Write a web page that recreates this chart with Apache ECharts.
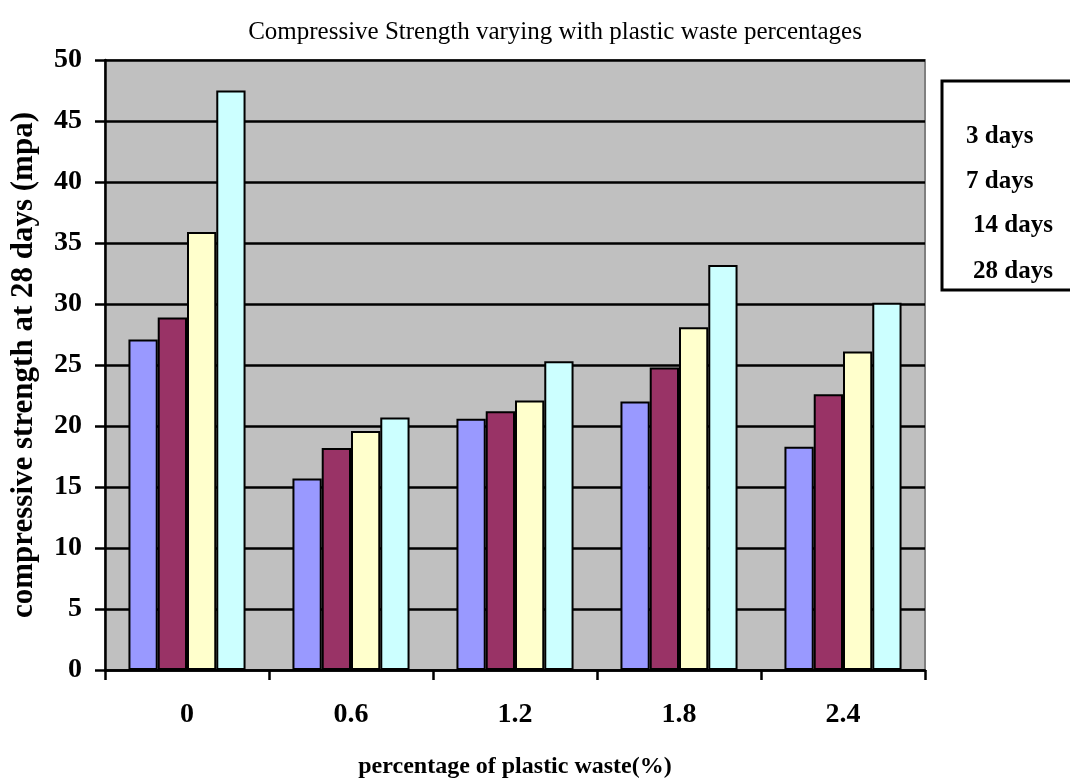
<!DOCTYPE html>
<html>
<head>
<meta charset="utf-8">
<script src="https://cdn.jsdelivr.net/npm/echarts@6/dist/echarts.min.js"></script>
<style>
  html, body { margin: 0; padding: 0; background: #ffffff; }
  #chart { width: 1070px; height: 784px; }
</style>
</head>
<body>
<div id="chart"></div>
<script>
// Plastic waste content (%) on the x axis
const categories = ['0', '0.6', '1.2', '1.8', '2.4'];
// Compressive strength (MPa) by curing age
const days3  = [27.1, 15.7, 20.6, 22.0, 18.3];
const days7  = [28.9, 18.2, 21.2, 24.8, 22.6];
const days14 = [35.9, 19.6, 22.1, 28.1, 26.1];
const days28 = [47.5, 20.7, 25.3, 33.2, 30.1];
const seriesNames = ['3 days', '7 days', '14 days', '28 days'];
const seriesColors = ['#9999FF', '#993366', '#FFFFCC', '#CCFFFF'];
const seriesValues = [days3, days7, days14, days28];

const serif = '"Liberation Serif", "Times New Roman", serif';

const chart = echarts.init(document.getElementById('chart'));

chart.setOption({
  animation: false,
  backgroundColor: '#ffffff',
  title: {
    text: 'Compressive Strength varying with plastic waste percentages',
    left: 550,
    textAlign: 'center',
    top: 15,
    textStyle: { fontFamily: serif, fontSize: 25, fontWeight: 'normal', color: '#000' }
  },
  grid: {
    left: 105, right: 145, top: 60, bottom: 113,
    show: true,
    backgroundColor: '#C0C0C0',
    borderColor: '#808080',
    borderWidth: 2
  },
  xAxis: {
    type: 'category',
    data: categories,
    name: 'percentage of plastic waste(%)',
    nameLocation: 'middle',
    nameGap: 85,
    nameTextStyle: { fontFamily: serif, fontSize: 24, fontWeight: 'bold', color: '#000' },
    axisLine: { lineStyle: { color: '#000', width: 2.5 } },
    axisTick: { show: true, alignWithLabel: false, length: 10, lineStyle: { color: '#000', width: 2.5 } },
    axisLabel: { fontFamily: serif, fontSize: 28, fontWeight: 'bold', color: '#000', margin: 31 }
  },
  yAxis: {
    type: 'value',
    min: 0, max: 50, interval: 5,
    name: 'compressive strength at 28 days (mpa)',
    nameLocation: 'middle',
    nameRotate: 90,
    nameGap: 66,
    nameTextStyle: { fontFamily: serif, fontSize: 31, fontWeight: 'bold', color: '#000' },
    axisLine: { show: true, lineStyle: { color: '#000', width: 2.5 } },
    axisTick: { show: true, length: 10, lineStyle: { color: '#000', width: 2.5 } },
    axisLabel: { fontFamily: serif, fontSize: 28, fontWeight: 'bold', color: '#000', margin: 23 },
    splitLine: { show: true, lineStyle: { color: '#000', width: 2.5 } }
  },
  series: seriesNames.map((name, i) => ({
    name: name,
    type: 'bar',
    data: seriesValues[i],
    barGap: '0%',
    barCategoryGap: '28.6%',
    itemStyle: { color: seriesColors[i], borderColor: '#000', borderWidth: 2 }
  })),
  graphic: [
    {
      type: 'rect',
      shape: { x: 942, y: 81, width: 140, height: 209 },
      style: { fill: '#ffffff', stroke: '#000', lineWidth: 3 }
    },
    { type: 'text', x: 966, y: 137, style: { text: seriesNames[0], font: 'bold 25px ' + serif, fill: '#000', textVerticalAlign: 'middle' } },
    { type: 'text', x: 966, y: 182, style: { text: seriesNames[1], font: 'bold 25px ' + serif, fill: '#000', textVerticalAlign: 'middle' } },
    { type: 'text', x: 973, y: 226, style: { text: seriesNames[2], font: 'bold 25px ' + serif, fill: '#000', textVerticalAlign: 'middle' } },
    { type: 'text', x: 973, y: 272, style: { text: seriesNames[3], font: 'bold 25px ' + serif, fill: '#000', textVerticalAlign: 'middle' } }
  ]
});
</script>
</body>
</html>
